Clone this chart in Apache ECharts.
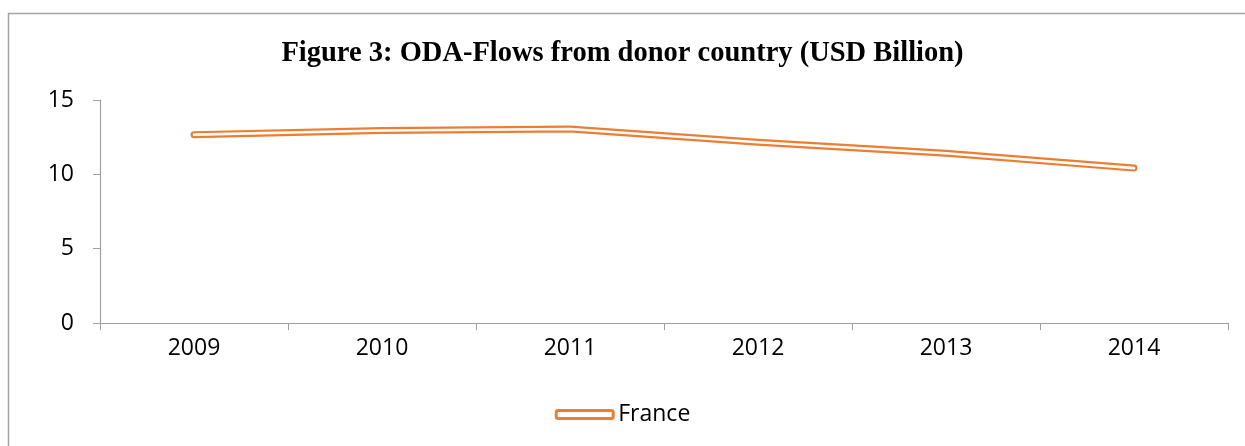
<!DOCTYPE html>
<html>
<head>
<meta charset="utf-8">
<script src="https://cdn.jsdelivr.net/npm/echarts@6/dist/echarts.min.js"></script>
<style>
  html, body { margin: 0; padding: 0; background: #fff; }
  #echart { width: 1245px; height: 446px; }
</style>
</head>
<body>
<div id="echart"></div>
<script>
  var years = ['2009', '2010', '2011', '2012', '2013', '2014'];
  var france = [12.67, 12.95, 13.05, 12.16, 11.42, 10.42];
  var yTicks = [0, 5, 10, 15];

  var orange = '#ED7D31';
  var axisGray = '#A0A0A0';
  var labelFont = '"Open Sans", sans-serif';

  var myChart = echarts.init(document.getElementById('echart'));
  var option = {
    animation: false,
    title: {
      text: 'Figure 3: ODA-Flows from donor country (USD Billion)',
      left: 'center',
      top: 34,
      textStyle: {
        fontFamily: '"Liberation Serif", serif',
        fontWeight: 'bold',
        fontSize: 28.5,
        color: '#000'
      }
    },
    // outer chart frame
    graphic: [{
      type: 'rect',
      shape: { x: 8.5, y: 13.5, width: 1260, height: 460 },
      style: { fill: 'none', stroke: '#A6A6A6', lineWidth: 1.5 },
      silent: true
    }],
    legend: {
      data: [{
        name: 'France',
        icon: 'roundRect',
        itemStyle: { color: '#fff', borderColor: orange, borderWidth: 3 }
      }],
      left: 'center',
      top: 398,
      itemWidth: 57,
      itemHeight: 8,
      textStyle: { fontFamily: labelFont, fontSize: 23, color: '#000' }
    },
    grid: {
      left: 100,
      right: 17,
      top: 100,
      bottom: 123
    },
    xAxis: {
      type: 'category',
      data: years,
      boundaryGap: true,
      axisLine: { lineStyle: { color: axisGray, width: 1.2 } },
      axisTick: { show: true, length: 7, lineStyle: { color: axisGray } },
      axisLabel: { margin: 14, fontFamily: labelFont, fontSize: 23, color: '#000' },
      splitLine: { show: false }
    },
    yAxis: {
      type: 'value',
      min: yTicks[0],
      max: yTicks[yTicks.length - 1],
      interval: 5,
      axisLine: { show: true, lineStyle: { color: axisGray, width: 1.2 } },
      axisTick: { show: true, length: 7, lineStyle: { color: axisGray } },
      axisLabel: { margin: 26, fontFamily: labelFont, fontSize: 23, color: '#000' },
      splitLine: { show: false }
    },
    series: [
      {
        name: 'France',
        type: 'line',
        data: france,
        symbol: 'none',
        lineStyle: { color: orange, width: 7, cap: 'round', join: 'round' },
        z: 2
      },
      {
        // white core gives the double-line look
        name: 'France',
        type: 'line',
        data: france,
        symbol: 'none',
        lineStyle: { color: '#fff', width: 2.6, cap: 'round', join: 'round' },
        z: 3
      }
    ]
  };
  myChart.setOption(option);
</script>
</body>
</html>
